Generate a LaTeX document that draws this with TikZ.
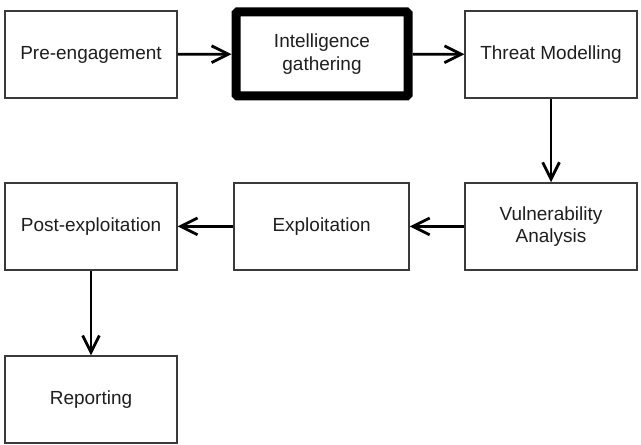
\documentclass[tikz,border=0pt]{standalone}
\usepackage{fontspec}
\setmainfont{Liberation Sans}
\usetikzlibrary{arrows.meta, positioning, calc}
\definecolor{inkbox}{HTML}{3A3A3A}
\definecolor{inktext}{HTML}{1E1E1E}

\begin{document}
\begin{tikzpicture}[font=\fontsize{13.5}{16}\selectfont,
  phasebox/.style={draw=inkbox, line width=0.9pt, minimum width=4.3cm,
    minimum height=2.175cm, align=center, text=inktext, inner sep=0pt},
  flow/.style={line width=2pt,
    -{Straight Barb[length=0.42cm, width=0.42cm, line width=2pt]}}]
  \useasboundingbox (0,0) rectangle (16.025,-11.125);
  \node[phasebox] (pre) at (2.275,-1.3625) {Pre-engagement};
  \node[phasebox, draw=black, line width=6.4pt, minimum width=4.3cm,
        minimum height=2.1cm, rounded corners=1pt] (intel) at (8.05,-1.35)
        {Intelligence\\gathering};
  \node[phasebox] (threat) at (13.775,-1.3625) {Threat Modelling};
  \node[phasebox] (vuln) at (13.775,-5.66) {Vulnerability\\Analysis};
  \node[phasebox, minimum width=4.375cm] (exploit) at (8.04,-5.66)
        {Exploitation};
  \node[phasebox] (post) at (2.275,-5.66) {Post-exploitation};
  \node[phasebox] (report) at (2.275,-9.99) {Reporting};
  \draw[flow] (pre) -- (intel);
  \draw[flow] (intel) -- (threat);
  \draw[flow] (threat) -- (vuln);
  \draw[flow] (vuln) -- (exploit);
  \draw[flow] (exploit) -- (post);
  \draw[flow] (post) -- (report);
\end{tikzpicture}
\end{document}
